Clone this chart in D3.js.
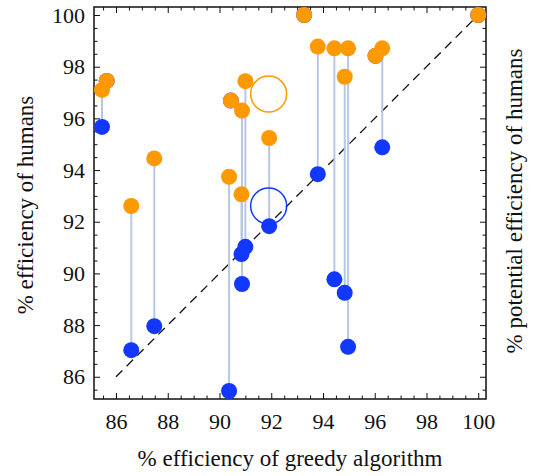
<!DOCTYPE html>
<html><head><meta charset="utf-8">
<script src="https://cdn.jsdelivr.net/npm/d3@7"></script>
<style>body{margin:0;background:#fff}svg{display:block}svg text{font-family:'Liberation Serif','Times New Roman',Times,'DejaVu Serif',serif !important;fill:#111}</style>
</head><body><svg id="c" width="535" height="476" font-family="Liberation Serif, Times New Roman, DejaVu Serif, serif"></svg>
<script>
const greedy    = [85.46, 85.64, 86.59, 87.48, 90.37, 90.44, 90.85, 90.87, 91.0, 91.92, 93.27, 93.8, 94.44, 94.84, 94.97, 96.03, 96.29, 100];
const humans    = [95.67, 97.45, 87.03, 87.96, 85.45, 96.69, 90.75, 89.59, 91.03, 91.83, 100, 93.84, 89.77, 89.25, 87.16, 98.42, 94.88, 100];
const potential = [97.1, 97.45, 92.61, 94.45, 93.74, 96.69, 93.06, 96.30, 97.44, 95.24, 100, 98.78, 98.71, 97.61, 98.71, 98.42, 98.71, 100];
const meanGreedy = 91.9, meanHumans = 92.61, meanPotential = 96.94;
const majorTicks = [86, 88, 90, 92, 94, 96, 98, 100];
const diagonal = [86, 100];

const FONT = "Liberation Serif, Times New Roman, DejaVu Serif, serif";
const svg = d3.select("#c");
const L = 94, R = 486, T = 7, B = 399;
const x = d3.scaleLinear().domain([85.15, 100.3]).range([L, R]);
const y = d3.scaleLinear().domain([85.14, 100.31]).range([B, T]);
const BLUE = "#1238ff", ORANGE = "#ff9900", STEM = "#b8c8e2";
const minor = d3.range(85.5, 100.31, 0.5).filter(v => !majorTicks.includes(v));

function ax(gen, scale, tx, ty, labels, dir) {
  const g = svg.append("g").attr("transform", `translate(${tx},${ty})`);
  g.call(gen(scale).tickValues(majorTicks).tickSizeInner(-6).tickSizeOuter(0)
    .tickPadding(dir === "b" ? 14 : dir === "l" ? 9 : 0).tickFormat(labels ? d3.format("d") : ""));
  g.attr("font-family", FONT);
  g.select(".domain").remove();
  g.selectAll(".tick line").attr("stroke", "#111").attr("stroke-width", 1);
  g.selectAll(".tick text").attr("font-size", 22).attr("fill", "#111").attr("font-family", FONT);
  const g2 = svg.append("g").attr("transform", `translate(${tx},${ty})`);
  g2.call(gen(scale).tickValues(minor).tickSizeInner(-3.5).tickSizeOuter(0).tickFormat(""));
  g2.select(".domain").remove();
  g2.selectAll(".tick line").attr("stroke", "#111").attr("stroke-width", 1);
}
ax(d3.axisBottom, x, 0, B, true, "b");
ax(d3.axisTop, x, 0, T, false, "t");
ax(d3.axisLeft, y, L, 0, true, "l");
ax(d3.axisRight, y, R, 0, false, "r");

svg.append("rect").attr("x", L).attr("y", T).attr("width", R - L).attr("height", B - T)
  .attr("fill", "none").attr("stroke", "#111").attr("stroke-width", 1.5);

svg.append("line").attr("x1", x(diagonal[0])).attr("y1", y(diagonal[0]))
  .attr("x2", x(diagonal[1])).attr("y2", y(diagonal[1]))
  .attr("stroke", "#111").attr("stroke-width", 1.3).attr("stroke-dasharray", "9,6");

const idx = d3.range(greedy.length);
svg.append("g").selectAll("line").data(idx).join("line")
  .attr("x1", i => x(greedy[i])).attr("x2", i => x(greedy[i]))
  .attr("y1", i => y(humans[i])).attr("y2", i => y(potential[i]))
  .attr("stroke", STEM).attr("stroke-width", 2);

svg.append("circle").attr("cx", x(meanGreedy)).attr("cy", y(meanPotential)).attr("r", 18)
  .attr("fill", "none").attr("stroke", ORANGE).attr("stroke-width", 1.5);
svg.append("circle").attr("cx", x(meanGreedy)).attr("cy", y(meanHumans)).attr("r", 18)
  .attr("fill", "none").attr("stroke", BLUE).attr("stroke-width", 1.5);

svg.append("g").selectAll("circle").data(idx).join("circle")
  .attr("cx", i => x(greedy[i])).attr("cy", i => y(humans[i])).attr("r", 8).attr("fill", BLUE);
svg.append("g").selectAll("circle").data(idx).join("circle")
  .attr("cx", i => x(greedy[i])).attr("cy", i => y(potential[i])).attr("r", 8).attr("fill", ORANGE);

svg.append("text").attr("x", 290).attr("y", 466).attr("text-anchor", "middle").attr("font-size", 23)
  .attr("font-family", FONT).text("% efficiency of greedy algorithm");
svg.append("text").attr("transform", "translate(33,205) rotate(-90)").attr("text-anchor", "middle").attr("font-size", 23)
  .attr("font-family", FONT).text("% efficiency of humans");
svg.append("text").attr("transform", "translate(522,201) rotate(-90)").attr("text-anchor", "middle").attr("font-size", 23)
  .attr("font-family", FONT).text("% potential efficiency of humans");
</script></body></html>
